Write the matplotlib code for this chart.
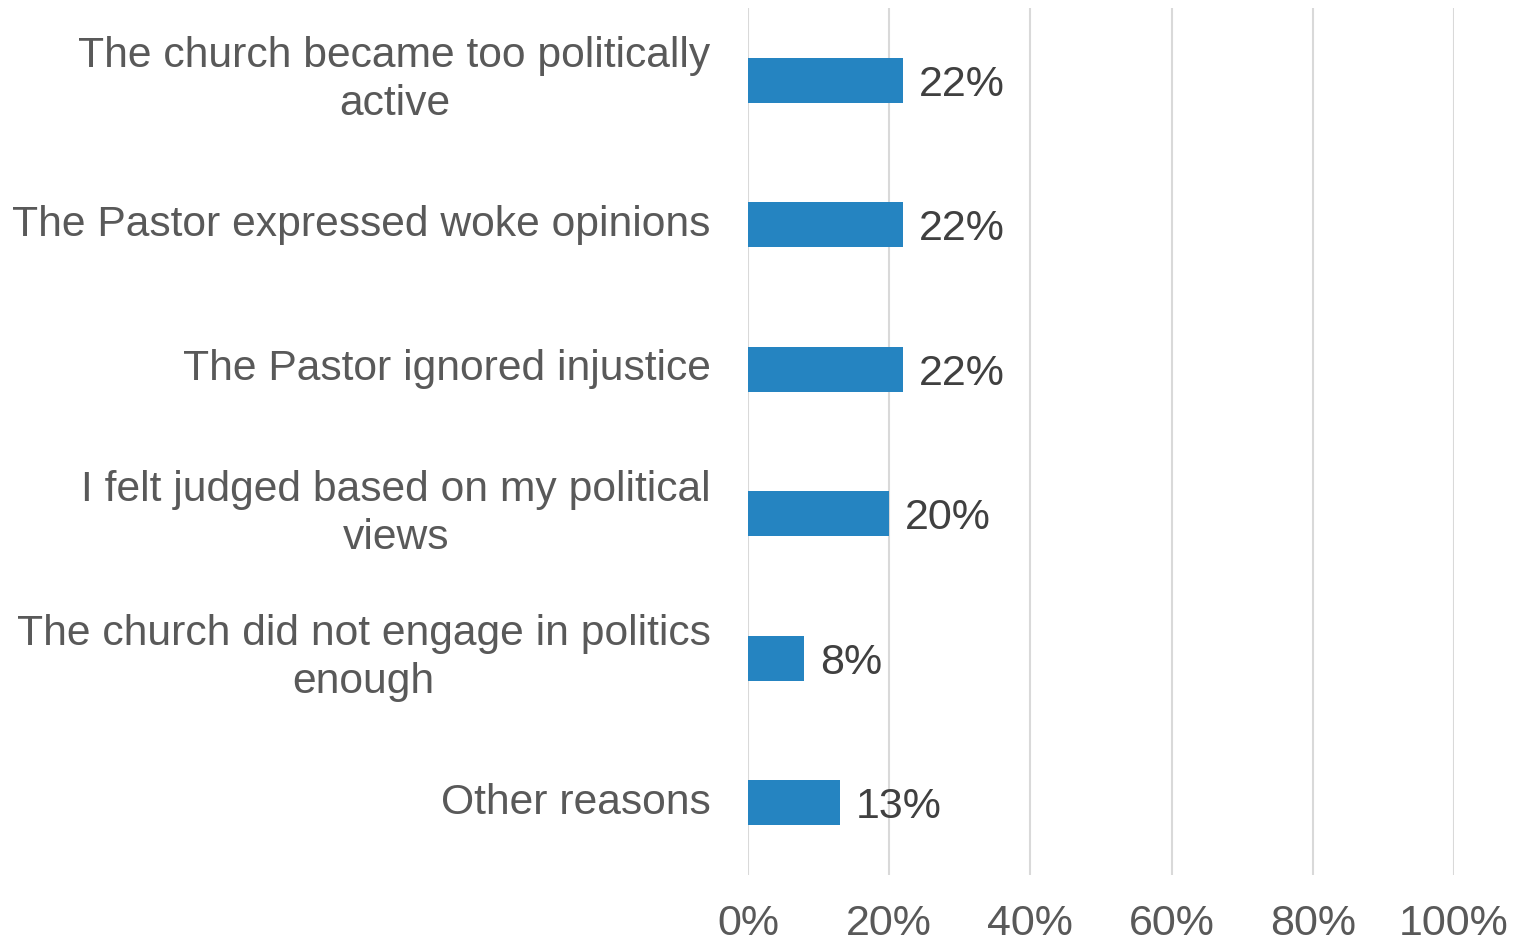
import matplotlib
matplotlib.use("Agg")
import matplotlib.pyplot as plt
import matplotlib.transforms as mtransforms
from matplotlib.ticker import FuncFormatter

categories = [
    "The church became too politically\nactive",
    "The Pastor expressed woke opinions",
    "The Pastor ignored injustice",
    "I felt judged based on my political\nviews",
    "The church did not engage in politics\nenough",
    "Other reasons",
]
values = [22, 22, 22, 20, 8, 13]
x_ticks = [0, 20, 40, 60, 80, 100]

plt.rcParams["font.family"] = ["Liberation Sans", "DejaVu Sans"]

fig = plt.figure(figsize=(15.2, 9.44), dpi=100)
ax = fig.add_axes([0.4921, 0.0731, 0.4645, 0.9184])

y = list(range(len(categories)))
ax.barh(y, values, height=0.31, color="#2584C1", zorder=3)
for yi, v in zip(y, values):
    ax.text(v + 2.2, yi, f"{v}%", va="center_baseline", ha="left",
            fontsize=31, color="#404040")

ax.set_xlim(0, 100)
ax.set_ylim(len(categories) - 0.5, -0.5)
ax.set_yticks(y)
ax.set_yticklabels(categories, fontsize=30.7, color="#595959", linespacing=1.25)
shift = mtransforms.ScaledTranslation(0, -3 / 100, fig.dpi_scale_trans)
for lbl in ax.get_yticklabels():
    lbl.set_multialignment("center")
    lbl.set_verticalalignment("center")
    lbl.set_transform(lbl.get_transform() + shift)
ax.tick_params(axis="y", length=0, pad=27)
ax.set_xticks(x_ticks)
ax.xaxis.set_major_formatter(FuncFormatter(lambda v, p: f"{v:.0f}%"))
ax.tick_params(axis="x", length=0, pad=21, labelsize=31, labelcolor="#595959")
ax.grid(axis="x", color="#D9D9D9", linewidth=1.5, zorder=0)
for s in ax.spines.values():
    s.set_visible(False)

fig.savefig("out.png", dpi=100)
